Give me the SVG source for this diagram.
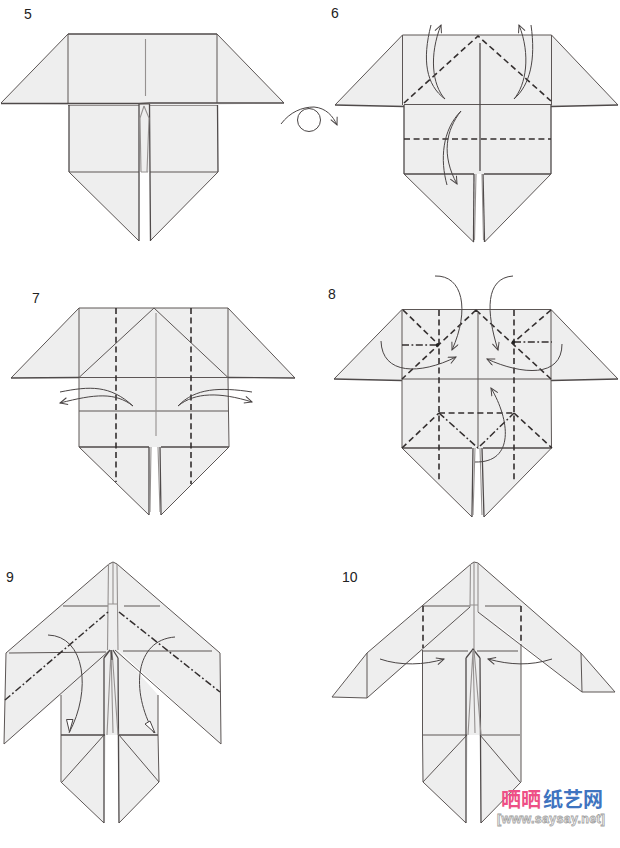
<svg xmlns="http://www.w3.org/2000/svg" width="620" height="848" viewBox="0 0 620 848">
<style>
.f{fill:#eeeeee;stroke:none}
.l{fill:none;stroke:#5c5655;stroke-width:1;stroke-linejoin:miter}
.e{fill:none;stroke:#4f4a4a;stroke-width:1.3}
.g{fill:none;stroke:#959190;stroke-width:1.1}
.d{fill:none;stroke:#332e2e;stroke-width:1.6;stroke-dasharray:6 3.6}
.m{fill:none;stroke:#332e2e;stroke-width:1.5;stroke-dasharray:7 2.5 1.8 2.5}
.a{fill:none;stroke:#4a4545;stroke-width:1}
.n{font-family:"Liberation Sans",Arial,sans-serif;font-size:14px;fill:#222}
.cj{font-family:"Noto Sans CJK SC",sans-serif;font-size:20px;font-weight:700}
.w{font-family:"Liberation Sans",Arial,sans-serif;font-size:12.5px;font-weight:700;fill:#fff;stroke:#a3a3a3;stroke-width:.8;letter-spacing:.3px}
</style>
<defs>
<marker id="ah" markerWidth="10" markerHeight="10" refX="8" refY="4" orient="auto" markerUnits="userSpaceOnUse"><path d="M0.5 0.5L8 4L0.5 7.5" fill="none" stroke="#4a4545" stroke-width="1"/></marker>
</defs>

<g id="step5">
<path class="f" d="M1 103L68 34H217L284 103L217 105L218 172L150 241L149 172H140L139 241L69 172V105Z"/>
<path class="e" d="M68 34H217"/>
<path class="l" d="M1 103L68 34V103M217 34L284 103M217 34V103"/>
<path class="e" d="M1 103.500H139L150 103L284 103"/>
<path class="g" d="M68 105.500H139M150 105.500H217M145.500 39V96"/>
<path class="e" d="M69 105V172M217.500 105L218 172"/>
<path class="l" d="M69 172H139M150 172H218M69 172L139 241M218 172L150 241"/>
<path class="e" d="M139 104L139 241M149.500 104L150.500 241"/>
<path class="g" d="M144 106L140 118L141 172M144 106L149 118L147 172M141 172L148 172"/>
<path class="l" d="M139 104H150"/>
</g>
<text class="n" x="24" y="19">5</text>
<g id="turn-over">
<path class="a" d="M281 124C290 112 302 107 314 107C326 108 333 116 337 125" marker-end="url(#ah)"/>
<circle class="a" cx="309" cy="120" r="11.500"/>
</g>

<g id="step6">
<path class="f" d="M335 105L402.500 35H551.500L618 105L551 106V174L484.500 242L483 174H475L473.500 242L404 174V106Z"/>
<path class="l" d="M335 105L402.500 35H551.500L618 105M402.500 35V105M551.500 35V105"/>
<path class="e" d="M335 105L404 106.500M551 106.500L618 105"/>
<path class="l" d="M404 104.500H551"/>
<path class="e" d="M404 105V174M551 105V174"/>
<path class="e" d="M404 174H474M484 174H551"/>
<path class="l" d="M404 174L473.500 242M551 174L484.500 242"/>
<path class="e" d="M474 174L473.500 242"/>
<path class="e" d="M483 174L484.500 242"/>
<path class="g" d="M476 174L474.500 240M482 174L483.500 240"/>
<path class="e" d="M480 43V171"/>
<path class="d" d="M404 103L478 36L551 101M404 139H551"/>
</g>
<text class="n" x="331" y="18">6</text>
<g id="arrows6">
<path class="a" d="M431 25C422 60 426 85 445 99"/>
<path class="a" d="M445 99C432 85 429 55 441 25" marker-end="url(#ah)"/>
<path class="a" d="M531 25C536 60 530 85 514 99"/>
<path class="a" d="M514 99C526 85 531 55 519 25" marker-end="url(#ah)"/>
<path class="a" d="M461 111C442 130 440 160 447 185"/>
<path class="a" d="M461 111C446 130 441 155 457 184" marker-end="url(#ah)"/>
</g>

<g id="step7">
<path class="f" d="M11 378L79 308H228L295 378L228 378V447L161 515L160 447H150L149 515L79 447V378Z"/>
<path class="l" d="M11 378L79 308H228L295 378M79 308V378M228 308V378"/>
<path class="e" d="M11 378L79 377.500M228 377.500L295 378"/>
<path class="l" d="M79 377.500L154 308L228 377.500M79 377.500H228M79 411H228"/>
<path class="l" d="M79 378V447M228 378L229 447"/>
<path class="e" d="M79 447H149M161 447H229"/>
<path class="l" d="M79 447L149 515M229 447L161 515"/>
<path class="e" d="M149 447L149 515M160 447L161 515"/>
<path class="g" d="M151 447L150 512M158 447L160 512M156 313V436"/>
<path class="d" d="M116 308V482M191 308V484"/>
</g>
<text class="n" x="32" y="303">7</text>
<g id="arrows7">
<path class="a" d="M133 406C110 385 90 386 60 392"/>
<path class="a" d="M133 406C115 392 95 394 60 403" marker-end="url(#ah)"/>
<path class="a" d="M178 406C195 388 220 387 252 392"/>
<path class="a" d="M178 406C195 392 220 392 252 402" marker-end="url(#ah)"/>
</g>

<g id="step8">
<path class="f" d="M334 379L402 309.500H551L618 379L551 380V448L484 517L481 448H473L472 517L402 448V380Z"/>
<path class="l" d="M334 379L402 309.500H551L618 379M402 309.500V379M551 309.500V379"/>
<path class="e" d="M334 379L402 380.500M551 380.500L618 379"/>
<path class="l" d="M402 379H551"/>
<path class="l" d="M402 379V448M551 379L551.500 448"/>
<path class="e" d="M402 448H472M483 448H551.500"/>
<path class="l" d="M402 448L472 517M551.500 448L484 517"/>
<path class="e" d="M473 448L472 517M482 448L484 517"/>
<path class="g" d="M475 448L473 515M480 448L482 515"/>
<path class="l" d="M478 313V447"/>
<path class="d" d="M439 310V481M514 310V481M403 310L439 345M476 310L402 379M476 310L551 379M551 310L514 342M439 413H514M402 448L439 413M514 413L552 448"/>
<path class="m" d="M402 345H437M514 342H552M439 413L478 448L514 413"/>
<circle cx="437.500" cy="345" r="1.800" fill="#222"/><circle cx="513.500" cy="342" r="1.800" fill="#222"/>
</g>
<text class="n" x="328" y="299">8</text>
<g id="arrows8">
<path class="a" d="M435 276C463 275 470 310 452 350" marker-end="url(#ah)"/>
<path class="a" d="M513 276C485 278 486 312 498 350" marker-end="url(#ah)"/>
<path class="a" d="M381 341C382 375 420 375 456 357" marker-end="url(#ah)"/>
<path class="a" d="M562 344C562 378 522 375 487 359" marker-end="url(#ah)"/>
<path class="a" d="M475 462C515 463 510 420 491 388" marker-end="url(#ah)"/>
</g>

<g id="step9">
<path class="f" d="M113 562L117 564L220 653L221 744L118 650L158 695V734L159 782L119 823L117 735H106L104 823L62 782L61 735V695L4 744L6 653L109 564Z"/>
<path class="l" d="M6 653L109 564L113 562L117 564L220 653M6 653L4 744L110 650M220 653L221 744L115 650"/>
<path class="l" d="M61 695V782L104 823M158 695V734L159 782L119 823"/>
<path class="e" d="M61 735H105M119 735H158"/>
<path class="l" d="M62 782L104 735M159 782L119 735"/>
<path class="l" d="M63 606H108M124 606H160M9 653L106 652M123 651H212"/>
<path class="g" d="M108.500 564L107.500 650M117 564L118 650M108 604H118M113 563V604"/>
<path class="e" d="M104 658L110 650M118 658L113 650M104 658V823M118 658L119 823"/>
<path class="g" d="M111 650L107 735M111 650L113 733M112 650L118 735"/>
<path class="e" d="M111 650L112 660"/>
<path class="m" d="M5 700L108 612M119 612L220 692"/>
</g>
<text class="n" x="6" y="582">9</text>
<g id="arrows9">
<path class="a" d="M48 635C85 636 92 690 69 733"/>
<path d="M66.500 719.500H73L69.500 732Z" fill="#fff" stroke="#4a4545"/>
<path class="a" d="M175 637C135 640 130 690 154 733"/>
<path d="M145 724L150 721L155 733Z" fill="#fff" stroke="#4a4545"/>
</g>

<g id="step10">
<path class="f" d="M474 562L478 563L581 653L615 692L582 692L480 611L521 645V782L481 823L480 735H468L466 823L423 782V650L367 698H332L367 653L471 564Z"/>
<path class="l" d="M332 697L367 653L471 564L474 562L478 563L581 653L615 692L582 692L478 612"/>
<path class="l" d="M332 697L367 698L470 607M367 653V698M581 653L582 692"/>
<path class="l" d="M422.500 650V735L423 782L466 823M521 645L521 782L481 823"/>
<path class="l" d="M423 735H467M480 735H520M423 782L467 735M520 782L480 735"/>
<path class="l" d="M423 606H470M485 606H521M423 651H468M477 651H518"/>
<path class="g" d="M470.500 564L470 607M478 564L478 612M470 605H478M474 563V650"/>
<path class="e" d="M466 658L473 649L480 658M466 658V823M480 658L481 823"/>
<path class="g" d="M473 650L468 735M473 650L475 733M474 650L481 735"/>
<path class="d" d="M423 606V648M521 606V645"/>
</g>
<text class="n" x="342" y="582">10</text>
<g id="arrows10">
<path class="a" d="M380 659C400 666 425 665 444 659" marker-end="url(#ah)"/>
<path class="a" d="M552 659C530 666 510 665 488 659" marker-end="url(#ah)"/>
</g>

<g id="watermark">
<text class="cj" x="501" y="807" fill="#ee4f86">晒晒</text>
<text class="cj" x="543" y="807" fill="#3f74c0">纸艺网</text>
<text class="w" x="497" y="823">[www.saysay.net]</text>
</g>
</svg>
